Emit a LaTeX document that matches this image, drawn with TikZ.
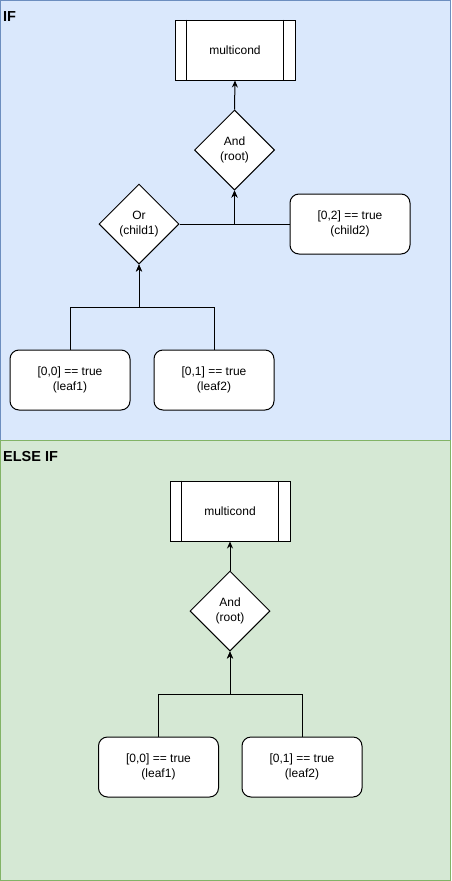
\documentclass[tikz,border=0pt]{standalone}
\usepackage{fontspec}
\setmainfont{Liberation Sans}
\usetikzlibrary{shapes.geometric,arrows.meta}
\definecolor{ifFill}{HTML}{DAE8FC}
\definecolor{ifLine}{HTML}{6C8EBF}
\definecolor{elFill}{HTML}{D5E8D4}
\definecolor{elLine}{HTML}{82B366}
\tikzset{
  txt/.style={font=\fontsize{12}{15.5}\selectfont, align=center},
  procbox/.style={txt, draw=black, fill=white, line width=1pt, minimum width=120pt, minimum height=60pt, inner sep=0pt},
  condbox/.style={txt, draw=black, fill=white, line width=1pt, rounded corners=9pt, minimum width=120pt, minimum height=60pt, inner sep=0pt},
  opdiamond/.style={txt, draw=black, fill=white, line width=1pt, shape=diamond, minimum width=80pt, minimum height=80pt, inner sep=0pt},
  arr/.style={draw=black, line width=1pt, -{Stealth[length=7pt,width=6pt]}},
  title/.style={font=\fontsize{14.5}{17}\selectfont\bfseries, anchor=west, inner sep=0pt}
}
\begin{document}
\begin{tikzpicture}[x=1pt,y=-1pt]
\useasboundingbox (0,0) rectangle (451,881);
% containers
\draw[fill=ifFill, draw=ifLine, line width=1pt] (0.5,0.5) rectangle (450.5,440.5);
\draw[fill=elFill, draw=elLine, line width=1pt] (0.5,440.5) rectangle (450.5,880.5);
\node[title] (tif) at (3,17) {IF};
\node[title] (telse) at (3,457) {ELSE IF};

% ---- IF section
\node[procbox] (m1) at (235,50) {multicond};
\draw[line width=1pt] ([xshift=12pt]m1.north west) -- ([xshift=12pt]m1.south west);
\draw[line width=1pt] ([xshift=-12pt]m1.north east) -- ([xshift=-12pt]m1.south east);
\node[opdiamond] (r1) at (234.5,150) {And\\(root)};
\node[opdiamond] (c1) at (139,224) {Or\\(child1)};
\node[condbox] (c2) at (350,224) {[0,2] == true\\(child2)};
\node[condbox] (l11) at (70,380) {[0,0] == true\\(leaf1)};
\node[condbox] (l12) at (214,380) {[0,1] == true\\(leaf2)};
\coordinate (b1) at (139,307);
\draw[arr] (r1.north) -- (m1.south);
\draw[arr] (c1.east) -| (r1.south);
\draw[arr] (c2.west) -| (r1.south);
\draw[arr] (l11.north) |- (b1) -- (c1.south);
\draw[arr] (l12.north) |- (b1) -- (c1.south);

% ---- ELSE IF section
\node[procbox] (m2) at (230,511) {multicond};
\draw[line width=1pt] ([xshift=12pt]m2.north west) -- ([xshift=12pt]m2.south west);
\draw[line width=1pt] ([xshift=-12pt]m2.north east) -- ([xshift=-12pt]m2.south east);
\node[opdiamond] (r2) at (230,611) {And\\(root)};
\node[condbox] (l21) at (158.5,767) {[0,0] == true\\(leaf1)};
\node[condbox] (l22) at (302,767) {[0,1] == true\\(leaf2)};
\coordinate (b2) at (230,694);
\draw[arr] (r2.north) -- (m2.south);
\draw[arr] (l21.north) |- (b2) -- (r2.south);
\draw[arr] (l22.north) |- (b2) -- (r2.south);
\end{tikzpicture}
\end{document}
